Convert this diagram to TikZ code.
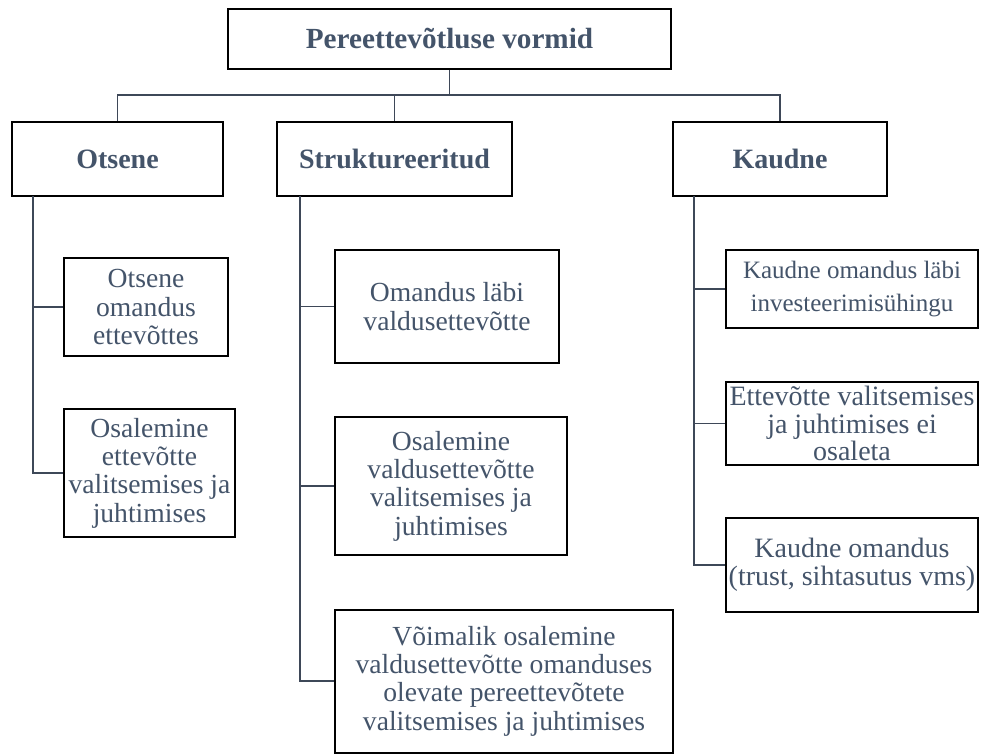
\documentclass[tikz,border=0pt]{standalone}
\usepackage{fontspec}
\setmainfont{Liberation Serif}
\usetikzlibrary{positioning}
\definecolor{textslate}{HTML}{44546A}
\definecolor{linkslate}{HTML}{3E4858}
\tikzset{
  headbox/.style={draw, line width=1pt, fill=white, text=textslate, align=center, inner sep=1pt, font=\bfseries\fontsize{14}{15}\selectfont},
  itembox/.style={draw, line width=1pt, fill=white, text=textslate, align=center, inner sep=1pt, font=\fontsize{13.8}{14.2}\selectfont},
  treelink/.style={draw=linkslate, line width=0.6pt}
}

\begin{document}
\begin{tikzpicture}[x=0.5pt, y=-0.5pt]
  \useasboundingbox (0,0) rectangle (983,754);
  % top level
  \node[headbox, minimum width=221.5pt, minimum height=30pt, font=\bfseries\fontsize{14.6}{15}\selectfont] (vormid) at (449.5,39) {Pereettevõtluse vormid};
  \node[headbox, minimum width=105.5pt, minimum height=37pt] (otsene) at (117.5,159) {Otsene};
  \node[headbox, minimum width=117.5pt, minimum height=37pt] (strukt) at (394.5,159) {Struktureeritud};
  \node[headbox, minimum width=107pt, minimum height=37pt] (kaudne) at (780,159) {Kaudne};
  % otsene
  \node[itembox, minimum width=82pt, minimum height=49pt] (ots1) at (146,307) {Otsene\\omandus\\ettevõttes};
  \node[itembox, minimum width=85.5pt, minimum height=64pt] (ots2) at (149.5,473) {Osalemine\\ettevõtte\\valitsemises ja\\juhtimises};
  % struktureeritud
  \node[itembox, minimum width=112pt, minimum height=56.5pt] (str1) at (447,306.5) {Omandus läbi\\valdusettevõtte};
  \node[itembox, minimum width=116pt, minimum height=69pt] (str2) at (451,486) {Osalemine\\valdusettevõtte\\valitsemises ja\\juhtimises};
  \node[itembox, minimum width=169pt, minimum height=71.5pt] (str3) at (504,681) {Võimalik osalemine\\valdusettevõtte omanduses\\olevate pereettevõtete\\valitsemises ja juhtimises};
  % kaudne
  \node[itembox, minimum width=126pt, minimum height=39pt, font=\fontsize{12.5}{16.5}\selectfont] (kau1) at (852,289) {Kaudne omandus läbi\\investeerimisühingu};
  \node[itembox, minimum width=126pt, minimum height=41.5pt, font=\fontsize{14}{13.8}\selectfont] (kau2) at (852,423.5) {Ettevõtte valitsemises\\ja juhtimises ei\\osaleta};
  \node[itembox, minimum width=126pt, minimum height=47pt, font=\fontsize{14}{14}\selectfont] (kau3) at (852,565) {Kaudne omandus\\(trust, sihtasutus vms)};

  % connectors
  \coordinate (bar) at (449.5,95);
  \draw[treelink] (vormid.south) -- (bar);
  \draw[treelink] (otsene.north) |- (bar);
  \draw[treelink] (strukt.north) |- (bar);
  \draw[treelink] (kaudne.north) |- (bar);
  \coordinate (otsTrunk) at (33,196);
  \coordinate (strTrunk) at (300,196);
  \coordinate (kauTrunk) at (694,196);
  \draw[treelink] (otsTrunk) |- (ots1.west);
  \draw[treelink] (otsTrunk) |- (ots2.west);
  \draw[treelink] (strTrunk) |- (str1.west);
  \draw[treelink] (strTrunk) |- (str2.west);
  \draw[treelink] (strTrunk) |- (str3.west);
  \draw[treelink] (kauTrunk) |- (kau1.west);
  \draw[treelink] (kauTrunk) |- (kau2.west);
  \draw[treelink] (kauTrunk) |- (kau3.west);
\end{tikzpicture}
\end{document}
